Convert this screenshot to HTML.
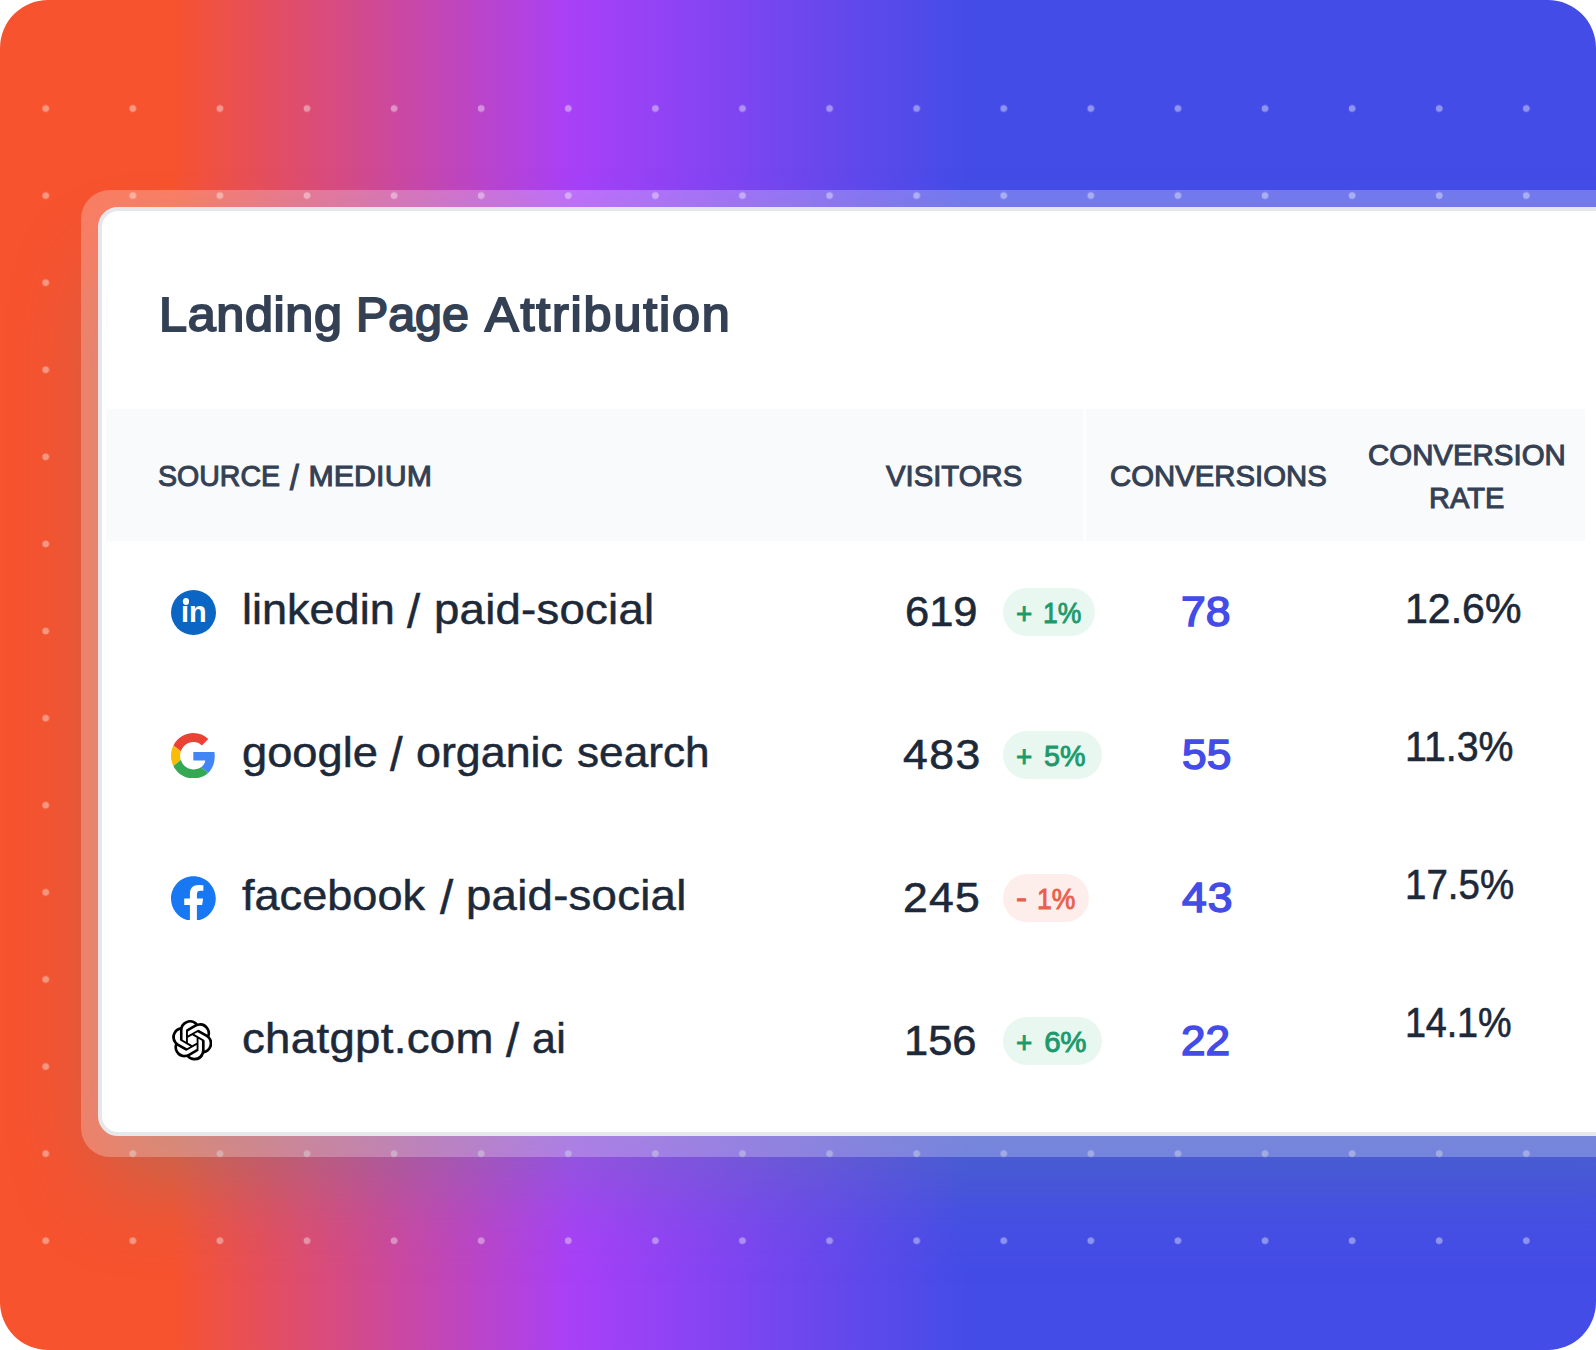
<!DOCTYPE html>
<html lang="en">
<head>
<meta charset="utf-8">
<title>Landing Page Attribution</title>
<style>
*{box-sizing:border-box;margin:0;padding:0}
html,body{width:1596px;height:1350px;background:#fff;overflow:hidden}
body{font-family:"Liberation Sans",sans-serif;position:relative}
.bg{position:absolute;left:0;top:0;width:1596px;height:1350px;border-radius:48px;overflow:hidden;
 background:linear-gradient(90deg,#f7532f 0%,#f7532f 10.8%,#a840f8 35.9%,#444ce7 60.5%,#444ce7 100%)}
.dots{position:absolute;left:0;top:64.8px;width:1570px;height:1219.4px;
 background-image:radial-gradient(circle at 45.7px 43.5px,rgba(255,255,255,.4) 0,rgba(255,255,255,.4) 3.1px,rgba(255,255,255,0) 3.8px);
 background-size:87.1px 87.1px}
.ring{position:absolute;left:81px;top:189.5px;width:1600px;height:967.6px;border-radius:29px;background:rgba(255,255,255,.25)}
.card{position:absolute;left:98px;top:206.6px;width:1600px;height:929.5px;border-radius:20px;background:#fff;border:4px solid #e6e7eb}
.shadow{position:absolute;left:98px;top:206.6px;width:1600px;height:929.5px;border-radius:20px;box-shadow:0 54px 90px -8px rgba(88,138,150,.36)}
.content{position:absolute;left:0;top:0;width:1596px;height:1350px;overflow:hidden}
.content span{position:absolute;white-space:nowrap;line-height:1;transform-origin:0 50%}
.ttl{font-size:47.5px;font-weight:400;color:#344054;-webkit-text-stroke:1.9px #344054}
.thead{position:absolute;left:106.5px;top:409.3px;width:1478.7px;height:131.4px;background:#f9fafb}
.thead i{position:absolute;left:976.2px;top:0;width:3px;height:100%;background:#fefefe}
.th{font-size:30.3px;color:#344054;-webkit-text-stroke:1.05px #344054}
.src{font-size:43px;color:#1d2939;-webkit-text-stroke:.5px #1d2939}
.num{font-size:42px;color:#1d2939;-webkit-text-stroke:.6px #1d2939}
.conv{font-size:42px;color:#444ce7;-webkit-text-stroke:1.5px #444ce7}
.pill{position:absolute;left:1002.8px;height:47.7px;border-radius:24px}
.pg{background:#e8f8f1}.pr{background:#feeeeb}
.bt{font-size:29.5px;-webkit-text-stroke:.9px currentColor}
.cg{color:#1c9a6c}.cr{color:#e95f4e}
.ico{position:absolute;display:block}
.li{position:absolute;left:170.7px;top:589.6px;width:45px;height:45px;border-radius:50%;background:#0a66c2}
.lit{font-size:29.5px;font-weight:700;color:#fff}
.li i{position:absolute;left:12.05px;top:8.9px;width:6.5px;height:6.5px;border-radius:50%;background:#fff}
</style>
</head>
<body>
<div class="bg"><div class="dots"></div><div class="shadow"></div><div class="ring"></div><div class="card"></div></div>
<div class="content">
<h1 class="g"><span class="ttl" style="left:159.13px;top:291.15px;letter-spacing:0.59px;transform:scaleX(1.06)">Landing</span> <span class="ttl" style="left:355.91px;top:291.15px;transform:scaleX(1.017)">Page</span> <span class="ttl" style="left:484.91px;top:291.15px;letter-spacing:1.71px;transform:scaleX(1.06)">Attribution</span></h1>
<div class="thead"><i></i></div>
<div class="g"><span class="th" style="left:158.35px;top:461.25px;transform:scaleX(0.942)">SOURCE</span> <span class="th" style="left:290.45px;top:461.25px;transform:scale(1.045,1.167);transform-origin:0 1.65px">/</span> <span class="th" style="left:308.42px;top:461.25px;letter-spacing:0.13px">MEDIUM</span></div>
<div class="g"><span class="th" style="left:885.61px;top:461.25px;transform:scaleX(0.967)">VISITORS</span></div>
<div class="g"><span class="th" style="left:1110.14px;top:461.25px;transform:scaleX(0.968)">CONVERSIONS</span></div>
<div class="g"><span class="th" style="left:1368.44px;top:440.25px;transform:scaleX(0.971)">CONVERSION</span> <span class="th" style="left:1428.89px;top:482.55px;transform:scaleX(0.958)">RATE</span></div>
<div class="row">
<div class="li"><i></i></div><div class="g"><span class="lit" style="left:181.14px;top:597.05px;transform:scaleX(0.979)">in</span></div>
<div class="g"><span class="src" style="left:241.57px;top:587.6px;transform:scaleX(1.047)">linkedin</span> <span class="src" style="left:407.27px;top:587.6px;transform:scale(1.096,1.12);transform-origin:0 4.5px">/</span> <span class="src" style="left:433.84px;top:587.6px;letter-spacing:0.21px;transform:scaleX(1.06)">paid-social</span></div>
<div class="g"><span class="num" style="left:904.54px;top:590.9px;transform:scaleX(1.035)">619</span></div>
<div class="pill pg" style="top:588.0px;width:92.7px"></div>
<div class="g"><span class="bt cg" style="left:1016.48px;top:599.35px;transform:scaleX(0.943)">+</span> <span class="bt cg" style="left:1042.81px;top:598.15px;letter-spacing:-0.08px;transform:scaleX(0.9)">1%</span></div>
<div class="g"><span class="conv" style="left:1181.47px;top:590.9px;letter-spacing:0.05px;transform:scaleX(1.06)">78</span></div>
<div class="g"><span class="num" style="left:1404.66px;top:587.9px;transform:scaleX(0.978)">12.6%</span></div>
</div>
<div class="row">
<svg class="ico" style="left:171.3px;top:732.6px;width:44.7px;height:45.4px" viewBox="0 0 48 48" preserveAspectRatio="none"><path fill="#EA4335" d="M24 9.5c3.54 0 6.71 1.22 9.21 3.6l6.85-6.85C35.9 2.38 30.47 0 24 0 14.62 0 6.51 5.38 2.56 13.22l7.98 6.19C12.43 13.72 17.74 9.5 24 9.5z"/><path fill="#4285F4" d="M46.98 24.55c0-1.57-.15-3.09-.38-4.55H24v9.02h12.94c-.58 2.96-2.26 5.48-4.78 7.18l7.73 6c4.51-4.18 7.09-10.36 7.09-17.65z"/><path fill="#FBBC05" d="M10.53 28.59c-.48-1.45-.76-2.99-.76-4.59s.27-3.14.76-4.59l-7.98-6.19C.92 16.46 0 20.12 0 24c0 3.88.92 7.54 2.56 10.78l7.97-6.19z"/><path fill="#34A853" d="M24 48c6.48 0 11.93-2.13 15.89-5.81l-7.73-6c-2.15 1.45-4.92 2.3-8.16 2.3-6.26 0-11.57-4.22-13.47-9.91l-7.98 6.19C6.51 42.62 14.62 48 24 48z"/></svg>
<div class="g"><span class="src" style="left:241.91px;top:730.5px;transform:scaleX(1.053)">google</span> <span class="src" style="left:390.46px;top:730.5px;transform:scale(1.056,1.12);transform-origin:0 4.5px">/</span> <span class="src" style="left:416.22px;top:730.5px;transform:scaleX(1.042)">organic</span> <span class="src" style="left:576.63px;top:730.5px;transform:scaleX(1.027)">search</span></div>
<div class="g"><span class="num" style="left:903.42px;top:733.9px;letter-spacing:1.38px;transform:scaleX(1.06)">483</span></div>
<div class="pill pg" style="top:731.0px;width:99.0px"></div>
<div class="g"><span class="bt cg" style="left:1016.48px;top:742.35px;transform:scaleX(0.943)">+</span> <span class="bt cg" style="left:1044.16px;top:741.15px;transform:scaleX(0.976)">5%</span></div>
<div class="g"><span class="conv" style="left:1182.24px;top:733.9px;transform:scaleX(1.055)">55</span></div>
<div class="g"><span class="num" style="left:1404.77px;top:726.4px;transform:scaleX(0.936)">11.3%</span></div>
</div>
<div class="row">
<svg class="ico" style="left:171px;top:875.7px;width:44.8px;height:44.8px" viewBox="0 0 24 24"><path fill="#1877F2" d="M24 12.073c0-6.627-5.373-12-12-12s-12 5.373-12 12c0 5.99 4.388 10.954 10.125 11.854v-8.385H7.078v-3.47h3.047V9.43c0-3.007 1.792-4.669 4.533-4.669 1.312 0 2.686.235 2.686.235v2.953H15.83c-1.491 0-1.956.925-1.956 1.874v2.25h3.328l-.532 3.47h-2.796v8.385C19.612 23.027 24 18.062 24 12.073z"/></svg>
<div class="g"><span class="src" style="left:242.36px;top:873.5px;transform:scaleX(1.049)">facebook</span> <span class="src" style="left:439.58px;top:873.5px;transform:scale(1.104,1.12);transform-origin:0 4.5px">/</span> <span class="src" style="left:465.84px;top:873.5px;letter-spacing:0.23px;transform:scaleX(1.06)">paid-social</span></div>
<div class="g"><span class="num" style="left:902.8px;top:877.4px;letter-spacing:1.2px;transform:scaleX(1.06)">245</span></div>
<div class="pill pr" style="top:874.0px;width:86.5px"></div>
<div class="g"><span class="bt cr" style="left:1015.98px;top:882.65px;transform:scaleX(1.124)">-</span> <span class="bt cr" style="left:1036.51px;top:884.15px;letter-spacing:-0.08px;transform:scaleX(0.9)">1%</span></div>
<div class="g"><span class="conv" style="left:1181.6px;top:877.4px;letter-spacing:0.88px;transform:scaleX(1.06)">43</span></div>
<div class="g"><span class="num" style="left:1404.83px;top:864.4px;transform:scaleX(0.916)">17.5%</span></div>
</div>
<div class="row">
<svg class="ico" style="left:171.8px;top:1020.2px;width:40.5px;height:40.5px" viewBox="0 0 24 24" preserveAspectRatio="none"><path fill="#000" d="M22.2819 9.8211a5.9847 5.9847 0 0 0-.5157-4.9108 6.0462 6.0462 0 0 0-6.5098-2.9A6.0651 6.0651 0 0 0 4.9807 4.1818a5.9847 5.9847 0 0 0-3.9977 2.9 6.0462 6.0462 0 0 0 .7427 7.0966 5.98 5.98 0 0 0 .511 4.9107 6.051 6.051 0 0 0 6.5146 2.9001A5.9847 5.9847 0 0 0 13.2599 24a6.0557 6.0557 0 0 0 5.7718-4.2058 5.9894 5.9894 0 0 0 3.9977-2.9001 6.0557 6.0557 0 0 0-.7475-7.0729zm-9.022 12.6081a4.4755 4.4755 0 0 1-2.8764-1.0408l.1419-.0804 4.7783-2.7582a.7948.7948 0 0 0 .3927-.6813v-6.7369l2.02 1.1686a.071.071 0 0 1 .038.052v5.5826a4.504 4.504 0 0 1-4.4945 4.4944zm-9.6607-4.1254a4.4708 4.4708 0 0 1-.5346-3.0137l.142.0852 4.783 2.7582a.7712.7712 0 0 0 .7806 0l5.8428-3.3685v2.3324a.0804.0804 0 0 1-.0332.0615L9.74 19.9502a4.4992 4.4992 0 0 1-6.1408-1.6464zM2.3408 7.8956a4.485 4.485 0 0 1 2.3655-1.9728V11.6a.7664.7664 0 0 0 .3879.6765l5.8144 3.3543-2.0201 1.1685a.0757.0757 0 0 1-.071 0l-4.8303-2.7865A4.504 4.504 0 0 1 2.3408 7.872zm16.5963 3.8558L13.1038 8.364 15.1192 7.2a.0757.0757 0 0 1 .071 0l4.8303 2.7913a4.4944 4.4944 0 0 1-.6765 8.1042v-5.6772a.79.79 0 0 0-.407-.667zm2.0107-3.0231l-.142-.0852-4.7735-2.7818a.7759.7759 0 0 0-.7854 0L9.409 9.2297V6.8974a.0662.0662 0 0 1 .0284-.0615l4.8303-2.7866a4.4992 4.4992 0 0 1 6.6802 4.66zM8.3065 12.863l-2.02-1.1638a.0804.0804 0 0 1-.038-.0567V6.0742a4.4992 4.4992 0 0 1 7.3757-3.4537l-.142.0805L8.704 5.459a.7948.7948 0 0 0-.3927.6813zm1.0976-2.3654l2.602-1.4998 2.6069 1.4998v2.9994l-2.5974 1.4997-2.6067-1.4997Z"/></svg>
<div class="g"><span class="src" style="left:241.91px;top:1016.5px;letter-spacing:0.3px;transform:scaleX(1.06)">chatgpt.com</span> <span class="src" style="left:505.57px;top:1016.5px;transform:scale(1.096,1.12);transform-origin:0 4.5px">/</span> <span class="src" style="left:532.05px;top:1016.5px;letter-spacing:0.19px">ai</span></div>
<div class="g"><span class="num" style="left:904.31px;top:1020.4px;transform:scaleX(1.034)">156</span></div>
<div class="pill pg" style="top:1017.0px;width:99.0px"></div>
<div class="g"><span class="bt cg" style="left:1016.48px;top:1028.35px;transform:scaleX(0.943)">+</span> <span class="bt cg" style="left:1044.15px;top:1027.15px;letter-spacing:-0.21px">6%</span></div>
<div class="g"><span class="conv" style="left:1181.19px;top:1020.4px;transform:scaleX(1.05)">22</span></div>
<div class="g"><span class="num" style="left:1404.87px;top:1001.6px;letter-spacing:-0.17px;transform:scaleX(0.9)">14.1%</span></div>
</div>
</div>
</body>
</html>
